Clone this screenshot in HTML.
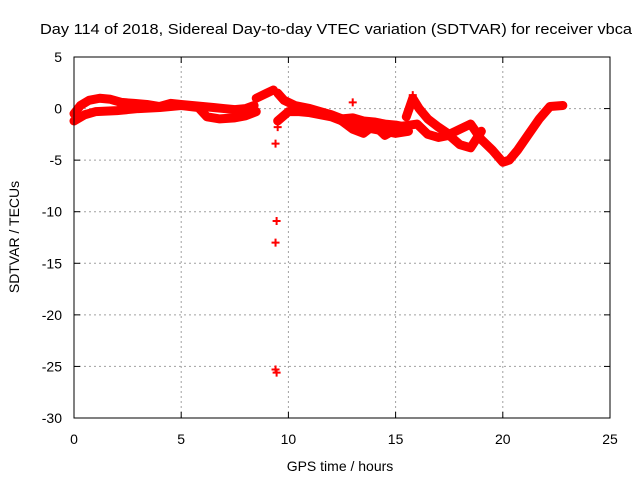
<!DOCTYPE html>
<html><head><meta charset="utf-8"><style>
html,body{margin:0;padding:0;background:#fff;}
svg{display:block;font-family:"Liberation Sans",sans-serif;}
</style></head><body>
<svg id="chart" width="640" height="480" viewBox="0 0 640 480">
<text x="40" y="34" font-size="15" textLength="592" lengthAdjust="spacingAndGlyphs">Day 114 of 2018, Sidereal Day-to-day VTEC variation (SDTVAR) for receiver vbca</text>
<text x="340" y="471" font-size="14" text-anchor="middle">GPS time / hours</text>
<text transform="translate(19,237) rotate(-90)" font-size="14" text-anchor="middle">SDTVAR / TECUs</text>
<g id="grid"></g><g id="ticks"></g><g id="marks"></g>
<rect x="74" y="57" width="536" height="361" fill="none" stroke="#000" stroke-width="1"/>
</svg>
<script>
const xTicks=[0,5,10,15,20,25];
const yTicks=[5,0,-5,-10,-15,-20,-25,-30];
const trackA=[[0,-0.5],[0.3,0.3],[0.7,0.8],[1.2,1.0],[1.7,0.9],[2.2,0.6],[2.8,0.5],[3.4,0.4],[4,0.2],[4.5,0.5],[5,0.4],[5.5,0.3],[6,0.2],[6.5,0.1],[7,0],[7.5,-0.1],[8,0],[8.4,0.3]];
const trackB=[[0,-1.2],[0.5,-0.6],[1,-0.3],[2,-0.2],[3,0],[4,0.1],[5,0.3],[5.8,0.1],[6.2,-0.8],[6.8,-1],[7.5,-0.9],[8,-0.7],[8.5,-0.3]];
const trackC=[[8.5,1.0],[9,1.5],[9.3,1.8]];
const trackD=[[9.5,1.5],[9.8,0.8],[10.3,0.3],[11,0],[11.5,-0.3],[12,-0.6],[12.5,-1.0],[13,-0.9],[13.5,-1.2],[14,-1.3],[14.5,-1.5],[15,-1.6],[15.5,-1.8]];
const trackD2=[[9.5,-1.2],[10,-0.3],[10.5,-0.3],[11,-0.4],[12,-0.8],[13,-1.6],[14,-2.0],[15,-2.4],[15.6,-2.2]];
const trackD3=[[12.3,-0.9],[13,-2.0],[13.5,-2.4],[14,-1.6],[14.5,-2.6],[15,-2.0]];
const trackE=[[15.5,-0.8],[15.8,1],[16.1,0],[16.5,-1],[17,-1.8],[17.5,-2.5],[18,-2],[18.5,-1.5],[19,-3],[19.5,-4],[20,-5.2],[20.3,-5],[20.7,-4],[21.2,-2.5],[21.7,-1],[22.2,0.2],[22.8,0.3]];
const trackF=[[15,-1.8],[16,-1.5],[16.5,-2.5],[17,-2.8],[17.5,-2.6],[18,-3.5],[18.5,-3.8],[19,-2.2]];
const outliers=[[9.4,-3.4],[9.45,-10.9],[9.4,-13],[9.4,-25.3],[9.45,-25.6],[13,0.6],[15.8,1.3],[9.5,-1.8]];
const tracks=[trackA,trackB,trackC,trackD,trackD2,trackD3,trackE,trackF];
const X0=74,X1=610,Y0=418,Y1=57;
function sx(v){return X0+(v-0)/(25-0)*(X1-X0);}
function sy(v){return Y0-(v+30)/(35)*(Y0-Y1);}
const NS="http://www.w3.org/2000/svg";
function mk(t,a,p){const e=document.createElementNS(NS,t);for(const k in a)e.setAttribute(k,a[k]);p.appendChild(e);return e;}
const grid=document.getElementById('grid'),ticks=document.getElementById('ticks'),marks=document.getElementById('marks');
xTicks.forEach(v=>{const x=sx(v);
 if(v>0&&v<25){const g=mk('line',{x1:x,x2:x,y1:Y0,y2:Y1,stroke:'#a0a0a0','stroke-dasharray':'2,3'},grid);
 
 }
 mk('line',{x1:x,x2:x,y1:Y0,y2:Y0-6,stroke:'#000'},ticks);mk('line',{x1:x,x2:x,y1:Y1,y2:Y1+6,stroke:'#000'},ticks);
 const t=mk('text',{x:x,y:Y0+26,'font-size':14,'text-anchor':'middle'},ticks);t.textContent=v;
 
 });
yTicks.forEach(v=>{const y=sy(v);
 if(v>-30&&v<5){const g=mk('line',{x1:X0,x2:X1,y1:y,y2:y,stroke:'#a0a0a0','stroke-dasharray':'2,3'},grid);
 
 }
 mk('line',{x1:X0,x2:X0+6,y1:y,y2:y,stroke:'#000'},ticks);mk('line',{x1:X1,x2:X1-6,y1:y,y2:y,stroke:'#000'},ticks);
 const t=mk('text',{x:X0-12,y:y+5,'font-size':14,'text-anchor':'end'},ticks);t.textContent=v;
 
 });
function plus(x,y){const g=mk('path',{d:`M${sx(x)-4},${sy(y)}h8M${sx(x)},${sy(y)-4}v8`,stroke:'#f00','stroke-width':2},marks);
 
 }
tracks.forEach(tr=>{const p=mk('polyline',{points:tr.map(d=>sx(d[0])+','+sy(d[1])).join(' '),fill:'none',stroke:'#f00','stroke-width':9,'stroke-linejoin':'round','stroke-linecap':'round'},marks);
 
 
 tr.forEach(d=>plus(d[0],d[1]));});
outliers.forEach(d=>plus(d[0],d[1]));
</script>
</body></html>
